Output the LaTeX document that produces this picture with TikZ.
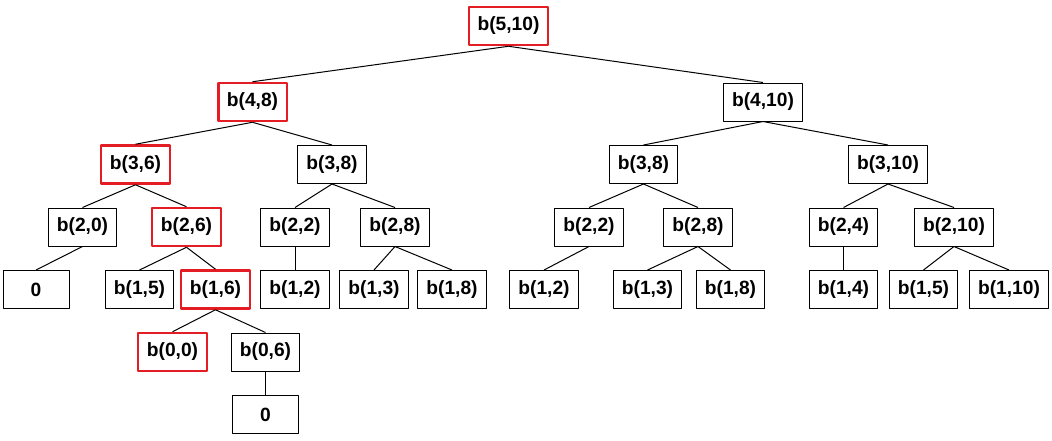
\documentclass[tikz,border=0pt]{standalone}
\usepackage{fontspec}
\setmainfont{Liberation Sans}
\usepackage{tikz}
\definecolor{pathred}{RGB}{228,28,36}

\begin{document}
\begin{tikzpicture}[x=0.75pt, y=-0.75pt, line join=round,
    bnode/.style={draw=black, line width=0.75pt, fill=white,
        minimum width=49.5pt, minimum height=28.5pt, inner xsep=6.5pt,
        font=\fontsize{14.4}{16}\selectfont\bfseries},
    onpath/.style={draw=pathred, line width=1.9pt},
    branch/.style={black, line width=0.75pt}]

    % keep the page the size of the reference
    \useasboundingbox (0,0) rectangle (1052,440);

    % =======================================================
    % NODES (one row per level)
    % =======================================================
    % level 5
    \node[bnode, onpath] (r)    at (508.5,26)  {b(5,10)};

    % level 4
    \node[bnode, onpath] (l)    at (252.5,102) {b(4,8)};
    \node[bnode]         (rr)   at (763,102)   {b(4,10)};

    % level 3
    \node[bnode, onpath] (ll)   at (135.5,164.5) {b(3,6)};
    \node[bnode]         (lr)   at (332,164.5)   {b(3,8)};
    \node[bnode]         (rl)   at (643.5,164.5) {b(3,8)};
    \node[bnode]         (rrr)  at (888,164.5)   {b(3,10)};

    % level 2
    \node[bnode]         (lll)  at (82.5,227)  {b(2,0)};
    \node[bnode, onpath] (llr)  at (186.5,227) {b(2,6)};
    \node[bnode]         (lrl)  at (295,227)   {b(2,2)};
    \node[bnode]         (lrr)  at (395,227)   {b(2,8)};
    \node[bnode]         (rll)  at (589,227)   {b(2,2)};
    \node[bnode]         (rlr)  at (698,227)   {b(2,8)};
    \node[bnode]         (rrl)  at (843.5,227) {b(2,4)};
    \node[bnode]         (rrrr) at (954,227)   {b(2,10)};

    % level 1
    \node[bnode]         (z1)    at (36,289.5)    {0};
    \node[bnode]         (llrl)  at (139.5,289.5) {b(1,5)};
    \node[bnode, onpath] (llrr)  at (215.5,289.5) {b(1,6)};
    \node[bnode]         (lrll)  at (295,289.5)   {b(1,2)};
    \node[bnode]         (lrrl)  at (374,289.5)   {b(1,3)};
    \node[bnode]         (lrrr)  at (452,289.5)   {b(1,8)};
    \node[bnode]         (rlll)  at (544,289.5)   {b(1,2)};
    \node[bnode]         (rlrl)  at (647.5,289.5) {b(1,3)};
    \node[bnode]         (rlrr)  at (730.5,289.5) {b(1,8)};
    \node[bnode]         (rrll)  at (843.5,289.5) {b(1,4)};
    \node[bnode]         (rrrl)  at (923.5,289.5) {b(1,5)};
    \node[bnode]         (rrrrr) at (1009,289.5)  {b(1,10)};

    % level 0
    \node[bnode, onpath] (llrrl) at (172.5,352) {b(0,0)};
    \node[bnode]         (llrrr) at (265.5,352) {b(0,6)};
    \node[bnode]         (z2)    at (265.5,414.5) {0};

    % =======================================================
    % BRANCHES (bottom of parent to top of child)
    % =======================================================
    \foreach \a/\b in {r/l, r/rr, l/ll, l/lr, rr/rl, rr/rrr,
                       ll/lll, ll/llr, lr/lrl, lr/lrr, rl/rll, rl/rlr,
                       rrr/rrl, rrr/rrrr,
                       lll/z1, llr/llrl, llr/llrr, lrl/lrll, lrr/lrrl, lrr/lrrr,
                       rll/rlll, rlr/rlrl, rlr/rlrr, rrl/rrll, rrrr/rrrl, rrrr/rrrrr,
                       llrr/llrrl, llrr/llrrr, llrrr/z2} {
        \draw[branch] (\a.south) -- (\b.north);
    }

\end{tikzpicture}
\end{document}
